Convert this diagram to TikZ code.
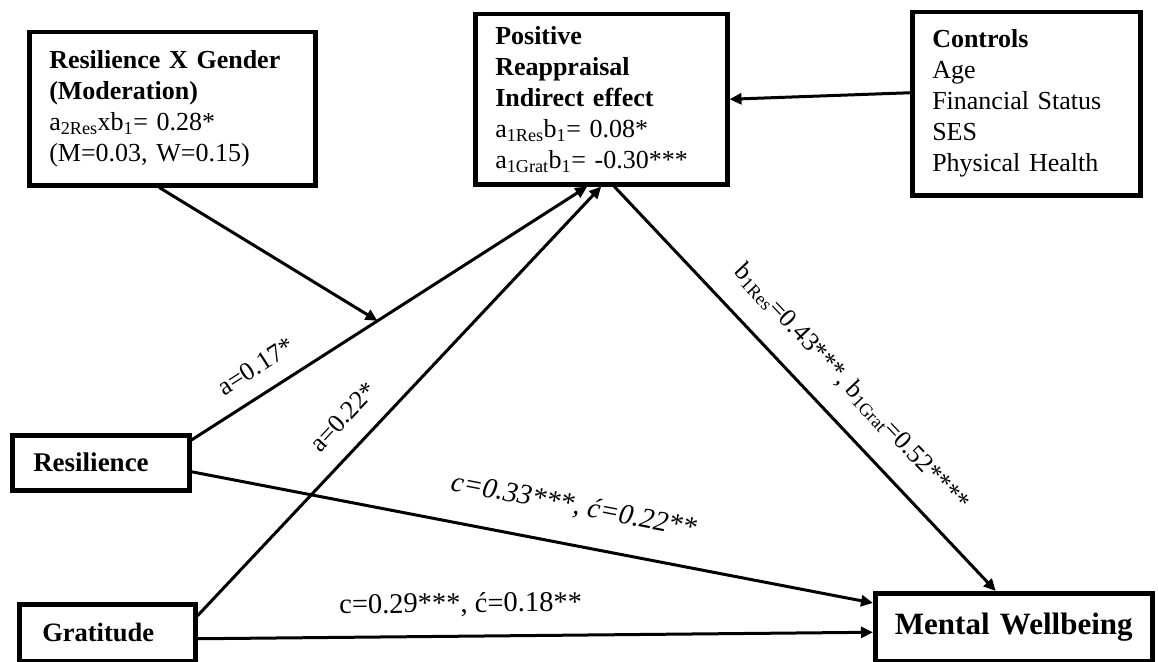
\documentclass[tikz,border=0pt]{standalone}
\usepackage{fontspec}
\setmainfont{Liberation Serif}
\usetikzlibrary{arrows.meta,calc}
\begin{document}
\begin{tikzpicture}[x=1pt,y=-1pt,
  box/.style={draw=black, line width=4.5pt, fill=white, anchor=north west, align=left,
    inner xsep=20pt, inner ysep=0pt, font=\fontsize{26}{31}\selectfont},
  conn/.style={line width=3pt, -{Triangle[length=12pt,width=11pt]}},
  lbl/.style={font=\fontsize{26}{30}\selectfont, inner sep=1pt, sloped},
  clbl/.style={lbl, font=\fontsize{28.5}{32}\selectfont}
]
\useasboundingbox[fill=white] (0,0) rectangle (1158,661);

% boxes
\node[box, text width=246pt, minimum height=153pt] (mod) at (27,30)
  {\textbf{Resilience X Gender}\\\textbf{(Moderation)}\\a\textsubscript{2Res}xb\textsubscript{1}= 0.28*\\(M=0.03, W=0.15)};
\node[box, text width=212pt, minimum height=170pt] (pos) at (473,12)
  {\textbf{Positive}\\\textbf{Reappraisal}\\\textbf{Indirect effect}\\a\textsubscript{1Res}b\textsubscript{1}= 0.08*\\a\textsubscript{1Grat}b\textsubscript{1}= -0.30***};
\node[box, text width=188pt, minimum height=183pt] (ctrl) at (910,10)
  {\textbf{Controls}\\Age\\Financial Status\\SES\\Physical Health};
\node[box, inner xsep=21pt, text width=135pt, minimum height=55pt,
  font=\fontsize{27}{31}\selectfont] (res) at (10,433)
  {\textbf{Resilience}};
\node[box, inner xsep=23pt, text width=130pt, minimum height=57pt,
  font=\fontsize{26.5}{31}\selectfont] (grat) at (17,602)
  {\textbf{Gratitude}};
\node[box, align=center, inner xsep=0pt, text width=277pt, minimum height=68pt,
  font=\fontsize{31}{35}\selectfont\bfseries] (mw) at (873,591) {Mental Wellbeing};

% connectors
\draw[conn] ([yshift=-7pt]res.north east) -- coordinate[pos=0.47] (mid)
  node[lbl, above=16pt, pos=0.2] {a=0.17*} ([xshift=-14pt]pos.south);
\draw[conn] ([xshift=-13pt]mod.south) -- (mid);
\draw[conn] ([yshift=17pt]grat.east) --
  node[lbl, above=19pt, pos=0.415] {a=0.22*} (pos.south);
\draw[conn] ([yshift=-9pt]res.east) --
  node[clbl, above=24pt, pos=0.55] {\textit{c=0.33***, ć=0.22**}} ([yshift=-12pt]mw.north west);
\draw[conn] ([yshift=-6pt]grat.east) --
  node[clbl, above=17pt, pos=0.39] {c=0.29***, ć=0.18**} ([yshift=-5pt]mw.west);
\draw[conn] ([xshift=13pt]pos.south) --
  node[lbl, above=21pt, pos=0.556] {b\textsubscript{1Res}=0.43***, b\textsubscript{1Grat}=0.52****} ([xshift=-18pt]mw.north);
\draw[conn] ([yshift=11pt]ctrl.west) -- (pos.east);
\end{tikzpicture}
\end{document}
